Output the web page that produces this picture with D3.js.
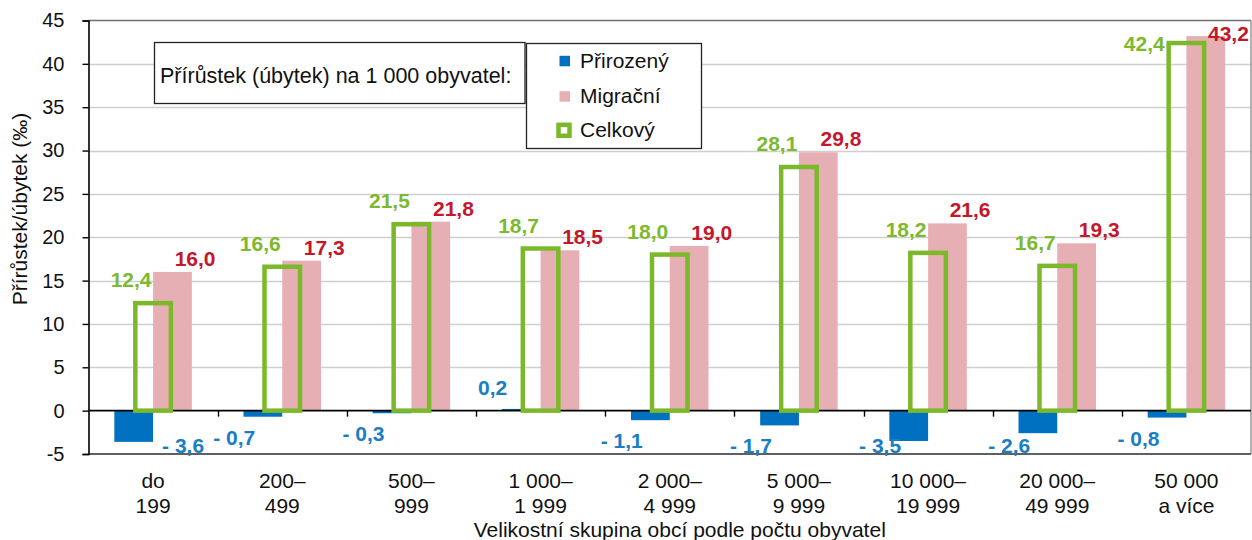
<!DOCTYPE html>
<html><head><meta charset="utf-8">
<script src="https://cdn.jsdelivr.net/npm/d3@7"></script>
<style>
html,body{margin:0;padding:0;background:#fff;}
svg{display:block;font-family:"Liberation Sans",Arial,Helvetica,sans-serif;}
</style></head>
<body>
<svg id="chart" width="1252" height="540"></svg>
<script>
// ---- data ----
const categoriesLine1 = ["do", "200–", "500–", "1 000–", "2 000–", "5 000–", "10 000–", "20 000–", "50 000"];
const categoriesLine2 = ["199", "499", "999", "1 999", "4 999", "9 999", "19 999", "49 999", "a více"];
const natural   = [-3.6, -0.7, -0.3, 0.2, -1.1, -1.7, -3.5, -2.6, -0.8];
const migration = [16.0, 17.3, 21.8, 18.5, 19.0, 29.8, 21.6, 19.3, 43.2];
const total     = [12.4, 16.6, 21.5, 18.7, 18.0, 28.1, 18.2, 16.7, 42.4];
const yTicks    = [-5, 0, 5, 10, 15, 20, 25, 30, 35, 40, 45];
const seriesNames = ["Přirozený", "Migrační", "Celkový"];
const legendTitle = "Přírůstek (úbytek) na 1 000 obyvatel:";
const yTitle = "Přírůstek/úbytek (‰)";
const xTitle = "Velikostní skupina obcí podle počtu obyvatel";

// ---- style / layout ----
const C = {blue:"#0070C0", pink:"#E6AFB4", green:"#7BB92A",
           tBlue:"#1A7EC3", tRed:"#C5172C", tGreen:"#7DB92E"};
const L = {x0:88.5, x1:1251, y0:20.5, y1:454};
const svg = d3.select("#chart");
const idx = d3.range(categoriesLine1.length);

const x = d3.scaleBand().domain(idx).range([L.x0, L.x1]).paddingInner(0).paddingOuter(0);
const sub = d3.scaleBand().domain(["nat","mig"]).range([0, x.bandwidth()]).paddingInner(0).paddingOuter(0.667);
const y = d3.scaleLinear().domain([yTicks[0], yTicks[yTicks.length-1]]).range([L.y1, L.y0]);
const cx = i => x(i) + x.bandwidth()/2;
const fmt = v => (v < 0 ? "- " : "") + Math.abs(v).toFixed(1).replace(".", ",");

// gridlines
svg.append("g").selectAll("line").data(yTicks.filter(t => t !== 0 && t !== yTicks[0] && t !== yTicks[yTicks.length-1]))
  .join("line").attr("x1", L.x0).attr("x2", L.x1)
  .attr("y1", d => Math.round(y(d)) + 0.5).attr("y2", d => Math.round(y(d)) + 0.5)
  .attr("stroke", "#cfcfcf").attr("stroke-width", 1.4);

// frame (top, right, bottom)
const fr = svg.append("g").attr("fill","none");
fr.append("line").attr("x1", L.x0).attr("x2", L.x1).attr("y1", y(45)).attr("y2", y(45)).attr("stroke","#707070").attr("stroke-width",1.6);
fr.append("line").attr("x1", L.x1).attr("x2", L.x1).attr("y1", y(45)).attr("y2", y(-5)).attr("stroke","#909090").attr("stroke-width",1.4);
fr.append("line").attr("x1", L.x0).attr("x2", L.x1).attr("y1", y(-5)).attr("y2", y(-5)).attr("stroke","#606060").attr("stroke-width",1.8);

// bars
svg.append("g").selectAll("rect").data(idx).join("rect")
  .attr("x", i => x(i) + sub("nat")).attr("width", sub.bandwidth())
  .attr("y", i => y(Math.max(0, natural[i]))).attr("height", i => Math.abs(y(natural[i]) - y(0)))
  .attr("fill", C.blue);
svg.append("g").selectAll("rect").data(idx).join("rect")
  .attr("x", i => x(i) + sub("mig")).attr("width", sub.bandwidth())
  .attr("y", i => y(Math.max(0, migration[i]))).attr("height", i => Math.abs(y(migration[i]) - y(0)))
  .attr("fill", C.pink);

// zero line + category boundary ticks
svg.append("line").attr("x1", L.x0).attr("x2", L.x1).attr("y1", y(0)).attr("y2", y(0))
  .attr("stroke","#000").attr("stroke-width",1.6);
svg.append("g").selectAll("line").data(idx.slice(1)).join("line")
  .attr("x1", i => Math.round(x(i))+0.5).attr("x2", i => Math.round(x(i))+0.5)
  .attr("y1", y(0)).attr("y2", y(0) + 6).attr("stroke","#000").attr("stroke-width",1.4);

// total outlines
const gw = x.bandwidth() * 0.275;
svg.append("g").selectAll("rect").data(idx).join("rect")
  .attr("x", i => cx(i) - gw/2).attr("width", gw)
  .attr("y", i => y(Math.max(0,total[i]))).attr("height", i => Math.abs(y(total[i]) - y(0)))
  .attr("fill","none").attr("stroke", C.green).attr("stroke-width", 4.5);

// y axis
const yAxis = svg.append("g").attr("transform", `translate(${L.x0},0)`)
  .call(d3.axisLeft(y).tickValues(yTicks).tickSize(6).tickPadding(18).tickFormat(d => String(d)));
yAxis.select(".domain").attr("stroke","#000").attr("stroke-width",1.6);
yAxis.selectAll(".tick line").attr("stroke","#000").attr("stroke-width",1.4);
yAxis.selectAll(".tick text").attr("font-size", 20).attr("fill","#111")
  .attr("font-family",'"Liberation Sans",Arial,sans-serif');

// category labels
const cat = svg.append("g").attr("font-size", 21).attr("fill","#111").attr("text-anchor","middle");
cat.selectAll("text.l1").data(idx).join("text").attr("class","l1")
  .attr("x", cx).attr("y", 488).text(i => categoriesLine1[i]);
cat.selectAll("text.l2").data(idx).join("text").attr("class","l2")
  .attr("x", cx).attr("y", 513).text(i => categoriesLine2[i]);

// axis titles
svg.append("text").attr("x", (L.x0 + L.x1)/2 + 10).attr("y", 536.5).attr("text-anchor","middle")
  .attr("font-size", 21).attr("fill","#111").text(xTitle);
svg.append("text").attr("transform","translate(27,209) rotate(-90)").attr("text-anchor","middle")
  .attr("font-size", 21).attr("fill","#111").text(yTitle);

// value labels
const lab = svg.append("g").attr("font-size", 21).attr("font-weight","bold");
// total (green)
lab.selectAll("text.g").data(idx).join("text").attr("class","g")
  .each(function(i){
    const t = d3.select(this).attr("fill", C.tGreen).text(fmt(total[i]));
    let by = y(total[i]) - 16;
    if (by < L.y0 + 30) {
      t.attr("text-anchor","end").attr("x", cx(i) - gw/2 - 4).attr("y", L.y0 + 30);
    } else {
      t.attr("text-anchor","middle").attr("x", cx(i) - 22).attr("y", by);
    }
  });
// migration (red)
lab.selectAll("text.r").data(idx).join("text").attr("class","r")
  .attr("fill", C.tRed).attr("text-anchor","middle")
  .attr("x", i => cx(i) + 42)
  .attr("y", i => Math.max(y(migration[i]) - 6, L.y0 + 20))
  .text(i => fmt(migration[i]));
// natural (blue)
lab.selectAll("text.b").data(idx).join("text").attr("class","b")
  .attr("fill", C.tBlue).attr("text-anchor","middle")
  .each(function(i){
    const v = natural[i];
    const t = d3.select(this).text(fmt(v));
    const w = this.getComputedTextLength();
    let px = cx(i) - 48;
    if (px - w/2 < L.x0 + 4) px = cx(i) + 30;
    const py = v >= 0 ? y(v) - 14 : Math.min(y(v) + 28, L.y1 - 1);
    t.attr("x", px).attr("y", py);
  });

// legend title box
const lt = svg.append("g");
lt.append("rect").attr("x",154.5).attr("y",42.5).attr("width",370.5).attr("height",61)
  .attr("fill","#fff").attr("stroke","#222").attr("stroke-width",1.3);
lt.append("text").attr("x",160).attr("y",82.5).attr("font-size",21.5).attr("fill","#111").text(legendTitle);

// legend box
const lg = svg.append("g");
lg.append("rect").attr("x",526.5).attr("y",43.5).attr("width",175).attr("height",105)
  .attr("fill","#fff").attr("stroke","#222").attr("stroke-width",1.3);
const ly = [68.3, 102.7, 137.3];
lg.append("rect").attr("x",559.5).attr("y",ly[0]-12.5).attr("width",10.5).attr("height",10.5).attr("fill",C.blue);
lg.append("rect").attr("x",559.5).attr("y",ly[1]-11.5).attr("width",10.5).attr("height",10.5).attr("fill",C.pink);
lg.append("rect").attr("x",558.5).attr("y",ly[2]-12.5).attr("width",11).attr("height",11)
  .attr("fill","#fff").attr("stroke",C.green).attr("stroke-width",4.5);
lg.selectAll("text").data(seriesNames).join("text")
  .attr("x",580).attr("y",(d,i)=>ly[i]).attr("font-size",21).attr("fill","#111").text(d=>d);
</script>
</body></html>
